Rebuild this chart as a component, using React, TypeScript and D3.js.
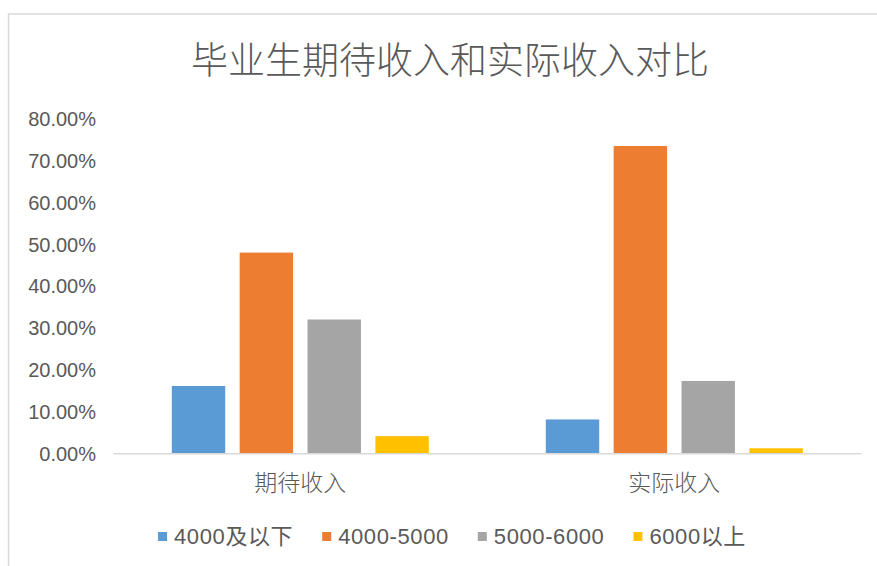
import React, { useEffect, useRef } from "react";
import * as d3 from "d3";

const categories = ["期待收入", "实际收入"];
const seriesNames = ["4000及以下", "4000-5000", "5000-6000", "6000以上"];
const seriesColors = ["#5b9bd5", "#ed7d31", "#a5a5a5", "#ffc000"];
// values per series: [期待收入, 实际收入]
const seriesValues = [
  [0.161, 0.081],
  [0.48, 0.735],
  [0.32, 0.173],
  [0.041, 0.012],
];
const yTicks = [0, 0.1, 0.2, 0.3, 0.4, 0.5, 0.6, 0.7, 0.8];
const title = "毕业生期待收入和实际收入对比";

const W = 877;
const H = 566;
const LATIN = "'Liberation Sans', 'Noto Sans CJK SC', sans-serif";
const CJK = "'Noto Sans CJK SC', 'Liberation Sans', sans-serif";
const TEXT = "#595959";

export default function App() {
  const ref = useRef<SVGSVGElement | null>(null);

  useEffect(() => {
    const svg = d3.select(ref.current);
    svg.selectAll("*").remove();

    // chart border
    svg
      .append("rect")
      .attr("x", 8.5)
      .attr("y", 14)
      .attr("width", 900)
      .attr("height", 600)
      .attr("fill", "#fff")
      .attr("stroke", "#d9d9d9")
      .attr("stroke-width", 1.5);

    // title
    svg
      .append("text")
      .attr("x", 450)
      .attr("y", 73.5)
      .attr("text-anchor", "middle")
      .attr("font-family", CJK)
      .attr("font-weight", 300)
      .attr("font-size", 37)
      .attr("fill", TEXT)
      .text(title);

    const x0 = d3.scaleBand<string>().domain(categories).range([113.3, 861.3]).padding(0);
    const x1 = d3
      .scaleBand<string>()
      .domain(seriesNames)
      .range([58.5, x0.bandwidth() - 58.5])
      .paddingInner(0.213)
      .paddingOuter(0);
    const y = d3.scaleLinear().domain([0, 0.8]).range([453.3, 118.8]);
    const fmt = d3.format(".2%");

    // y tick labels
    svg
      .append("g")
      .selectAll("text")
      .data(yTicks)
      .join("text")
      .attr("x", 96)
      .attr("y", (d) => y(d) + 7.3)
      .attr("text-anchor", "end")
      .attr("font-family", LATIN)
      .attr("font-size", 20)
      .attr("fill", TEXT)
      .text((d) => fmt(d));

    // bars
    const groups = svg
      .append("g")
      .selectAll("g")
      .data(categories)
      .join("g")
      .attr("transform", (d) => `translate(${x0(d)},0)`);

    groups
      .selectAll("rect")
      .data((_, ci) => seriesNames.map((s, si) => ({ s, si, v: seriesValues[si][ci] })))
      .join("rect")
      .attr("x", (d) => x1(d.s) as number)
      .attr("width", x1.bandwidth())
      .attr("y", (d) => y(d.v))
      .attr("height", (d) => y(0) - y(d.v))
      .attr("fill", (d) => seriesColors[d.si]);

    // baseline
    svg
      .append("line")
      .attr("x1", 113.3)
      .attr("x2", 861.3)
      .attr("y1", y(0) + 0.5)
      .attr("y2", y(0) + 0.5)
      .attr("stroke", "#d9d9d9")
      .attr("stroke-width", 1.5);

    // category labels
    svg
      .append("g")
      .selectAll("text")
      .data(categories)
      .join("text")
      .attr("x", (d) => (x0(d) as number) + x0.bandwidth() / 2)
      .attr("y", 491)
      .attr("text-anchor", "middle")
      .attr("font-family", CJK)
      .attr("font-weight", 300)
      .attr("font-size", 23)
      .attr("fill", TEXT)
      .text((d) => d);

    // legend
    const lg = svg.append("g");
    const items = seriesNames.map((name, i) => {
      const g = lg.append("g");
      g.append("rect")
        .attr("x", 0)
        .attr("y", 532)
        .attr("width", 9)
        .attr("height", 9)
        .attr("fill", seriesColors[i]);
      const t = g
        .append("text")
        .attr("x", 16)
        .attr("y", 544)
        .attr("font-family", LATIN)
        .attr("font-size", 22)
        .attr("letter-spacing", 0.6)
        .attr("fill", TEXT)
        .text(name);
      const w = (t.node() as SVGTextElement).getComputedTextLength();
      return { g, w: 16 + w };
    });
    const gap = 29;
    const total = items.reduce((a, b) => a + b.w, 0) + gap * (items.length - 1);
    let cx = 452 - total / 2;
    items.forEach((it) => {
      it.g.attr("transform", `translate(${cx},0)`);
      cx += it.w + gap;
    });
  }, []);

  return (
    <svg
      ref={ref}
      width={W}
      height={H}
      style={{ position: "absolute", left: 0, top: 0, display: "block", background: "#fff" }}
    />
  );
}
